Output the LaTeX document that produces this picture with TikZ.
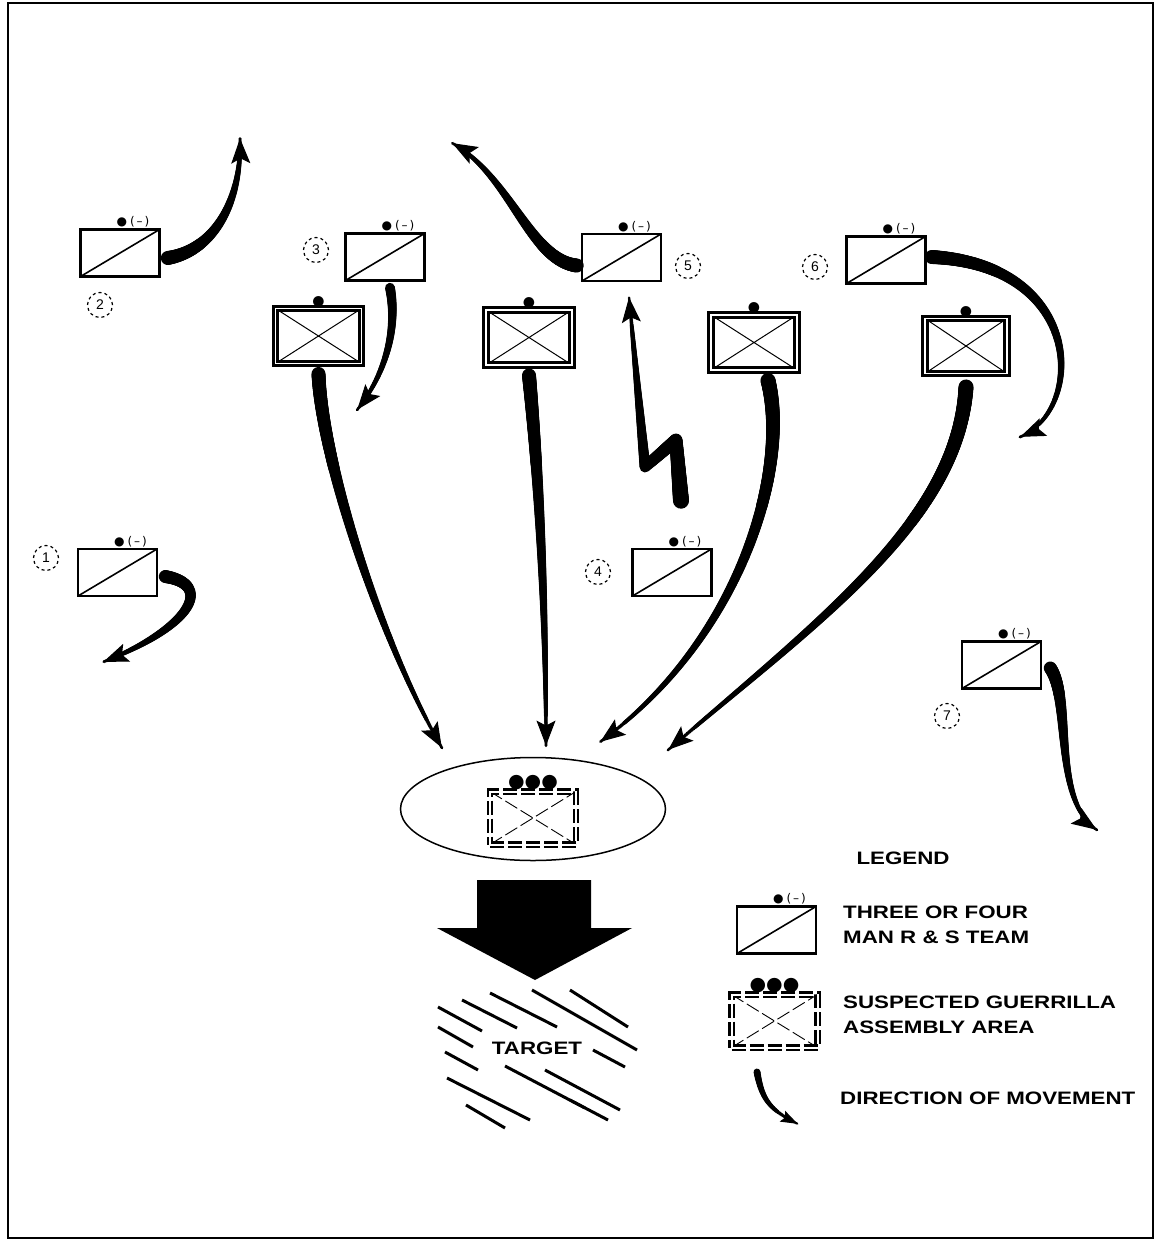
\documentclass[tikz,border=0pt]{standalone}
\usepackage{fontspec}
\setmainfont{Liberation Sans}
\newfontfamily\lab[FakeStretch=1.24]{Liberation Sans}
\newfontfamily\sym{DejaVu Sans}
\usetikzlibrary{arrows.meta,shapes.geometric,decorations.markings}
\tikzset{
  team/.style={draw, line width=2.6pt, minimum width=79pt, minimum height=47pt, inner sep=0pt,
    path picture={\draw[line width=1.6pt] (path picture bounding box.south west) -- (path picture bounding box.north east);},
    label={[anchor=south, xshift=13pt, inner sep=0.5pt, font=\sym\fontsize{12}{12}\selectfont]north:●\hspace{3pt}(\,–\,)}},
  inf/.style={draw, line width=2.9pt, double=white, double distance=1.3pt, minimum width=86pt, minimum height=55pt, inner sep=0pt,
    path picture={\draw[line width=1pt] (path picture bounding box.south west) -- (path picture bounding box.north east)
      (path picture bounding box.north west) -- (path picture bounding box.south east);},
    label={[anchor=south, inner sep=0pt, font=\sym\fontsize{14}{14}\selectfont]north:●}},
  asm/.style={draw, line width=2.3pt, double=white, double distance=2pt, dash pattern=on 14pt off 4pt,
    minimum width=86pt, minimum height=53pt, inner sep=0pt,
    path picture={\draw[line width=0.9pt] (path picture bounding box.south west) -- (path picture bounding box.north east)
      (path picture bounding box.north west) -- (path picture bounding box.south east);},
    label={[anchor=south, inner sep=0pt, font=\sym\fontsize{19}{19}\selectfont]north:●●●}},
  numc/.style={circle, draw, dashed, line width=1.2pt, minimum size=25pt, inner sep=0pt, font=\fontsize{14}{14}\selectfont},
  legtext/.style={anchor=west, inner sep=0pt, align=left, font=\lab\bfseries\fontsize{18}{25}\selectfont},
  taper/.style 2 args={postaction={decorate, decoration={markings,
    mark=between positions 0 and 1 step 1pt with {%
      \pgfmathsetmacro\taperr{#1-(#1-#2)*\pgfkeysvalueof{/pgf/decoration/mark info/distance from start}/\pgfdecoratedpathlength}%
      \fill (0pt,0pt) circle (\taperr pt);}}}},
  bighead/.style={postaction={decorate, decoration={markings,
    mark=at position -0.4pt with {\arrow[line width=1pt]{Stealth[length=25pt, width=19pt, inset=5pt]}}}}},
  smallhead/.style={postaction={decorate, decoration={markings,
    mark=at position -0.4pt with {\arrow[line width=1pt]{Stealth[length=17pt, width=12pt, inset=3pt]}}}}},
  hatch/.style={line width=3pt},
}
\begin{document}
\begin{tikzpicture}[x=1pt, y=-1pt]
\useasboundingbox (0,0) rectangle (1155,1243);
\draw[line width=1.5pt] (8,3) rectangle (1153,1238);

% R & S teams
\node[team] (t1) at (117.5,572.5) {};
\node[team] (t2) at (120,253) {};
\node[team] (t3) at (385,257) {};
\node[team] (t4) at (672,572.5) {};
\node[team] (t5) at (621.5,257.5) {};
\node[team] (t6) at (886,260) {};
\node[team] (t7) at (1001.5,665) {};

% numbers
\node[numc] (n1) at (46,558) {1};
\node[numc] (n2) at (100,305) {2};
\node[numc] (n3) at (316,250) {3};
\node[numc] (n4) at (598,572) {4};
\node[numc] (n5) at (688,266) {5};
\node[numc] (n6) at (815,267) {6};
\node[numc] (n7) at (947,716) {7};

% squads
\node[inf] (i1) at (318.5,336) {};
\node[inf] (i2) at (529,337.5) {};
\node[inf] (i3) at (754,342.5) {};
\node[inf, minimum width=82pt] (i4) at (966,346) {};

% assembly area
\node[ellipse, draw, line width=1.5pt, minimum width=265pt, minimum height=103pt] (el) at (533,809) {};
\node[asm] (aa) at (533,818) {};

% arrow ends
\coordinate (e1) at (442,748);
\coordinate (e2) at (546,746);
\coordinate (e3) at (600,742);
\coordinate (e4) at (668,750);
\coordinate (m1) at (103,662);
\coordinate (m2) at (240,138);
\coordinate (m3) at (357,410);
\coordinate (m4) at (629,297);
\coordinate (m5) at (452,143);
\coordinate (m6) at (1020,437);
\coordinate (m7) at (1097,830);

% squads to assembly area
\path[taper={7}{1.5}, bighead] ([yshift=-9pt]i1.south) .. controls (322,460) and (380,640) .. (e1);
\path[taper={7}{1.5}, bighead] ([yshift=-9pt]i2.south) .. controls (538,470) and (546,600) .. (e2);
\path[taper={7.5}{1.5}, bighead] ([xshift=14pt,yshift=-9pt]i3.south) .. controls (790,470) and (740,640) .. (e3);
\path[taper={7.5}{1.5}, bighead] ([yshift=-12pt]i4.south) .. controls (958,520) and (820,620) .. (e4);

% team movements
\path[taper={6.5}{1.5}, bighead] ([xshift=7pt,yshift=-4pt]t1.east) .. controls (215,585) and (190,628) .. (m1);
\path[taper={7}{1.5}, bighead] ([xshift=7pt,yshift=-5pt]t2.east) .. controls (215,250) and (242,200) .. (m2);
\path[taper={5}{1.5}, bighead] ([xshift=5pt,yshift=-6pt]t3.south) .. controls (398,330) and (385,375) .. (m3);
\path[taper={8}{1.3}, bighead] ([xshift=9pt,yshift=47pt]t4.north) -- (676,440) -- (645,467) -- (m4);
\path[taper={7}{1.5}, bighead] ([xshift=-4pt,yshift=-8pt]t5.west) .. controls (530,260) and (510,175) .. (m5);
\path[taper={7}{1.5}, bighead] ([xshift=5pt,yshift=3pt]t6.east) .. controls (1085,265) and (1085,410) .. (m6);
\path[taper={6.5}{1.5}, bighead] ([xshift=8pt,yshift=-3pt]t7.east) .. controls (1072,700) and (1052,800) .. (m7);

% main attack arrow
\fill (477,880) -- (591,880) -- (591,928) -- (632,928) -- (535,980) -- (437,928) -- (477,928) -- cycle;

% target
\draw[hatch] (438,1007) -- (482,1031);
\draw[hatch] (462,1000) -- (517,1028);
\draw[hatch] (490,993) -- (557,1027);
\draw[hatch] (532,990) -- (637,1050);
\draw[hatch] (570,990) -- (628,1027);
\draw[hatch] (438,1027) -- (473,1047);
\draw[hatch] (593,1050) -- (625,1067);
\draw[hatch] (445,1052) -- (478,1070);
\draw[hatch] (447,1078) -- (530,1120);
\draw[hatch] (466,1105) -- (505,1128);
\draw[hatch] (505,1066) -- (585,1108);
\draw[hatch] (545,1070) -- (620,1110);
\draw[hatch] (570,1100) -- (608,1120);
\node[inner sep=0pt, font=\lab\bfseries\fontsize{18}{18}\selectfont] (tg) at (537,1048) {TARGET};

% legend
\node[inner sep=0pt, font=\lab\bfseries\fontsize{18}{18}\selectfont] (lg) at (903,858) {LEGEND};
\node[team] (lt) at (776.5,930) {};
\node[legtext] (lt1) at (843,924.5) {THREE OR FOUR\\MAN R \& S TEAM};
\node[asm] (la) at (774.5,1021) {};
\node[legtext] (la1) at (843,1014.5) {SUSPECTED GUERRILLA\\ASSEMBLY AREA};
\coordinate (ls) at (757,1072);
\coordinate (le) at (798,1124);
\path[taper={3.5}{1.2}, smallhead] (ls) .. controls (762,1100) and (770,1110) .. (le);
\node[legtext] (lm) at (840,1098) {DIRECTION OF MOVEMENT};
\end{tikzpicture}
\end{document}
